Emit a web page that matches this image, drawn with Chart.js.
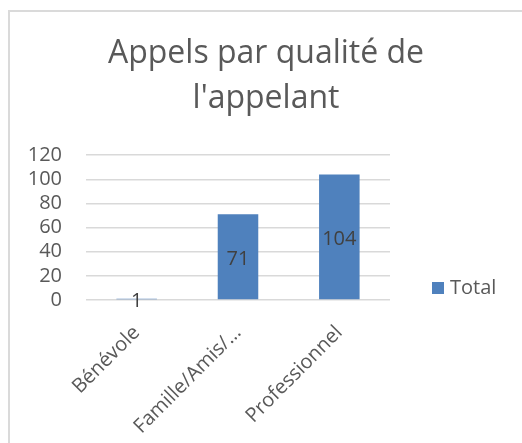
<!DOCTYPE html>
<html>
<head>
<meta charset="utf-8">
<script src="https://cdn.jsdelivr.net/npm/chart.js@4/dist/chart.umd.min.js"></script>
<style>
  html, body { margin: 0; padding: 0; background: #fff; }
  body { width: 522px; height: 443px; position: relative; overflow: hidden; }
  .frame { position: absolute; left: 8px; top: 10px; width: 600px; height: 600px; border: 2px solid #dadada; }
  #chart { position: absolute; left: 0; top: 0; }
</style>
</head>
<body>
<div class="frame"></div>
<canvas id="chart" width="522" height="443"></canvas>
<script>
// data
const categories = ["Bénévole", "Famille/Amis/…", "Professionnel"];
const totals = [1, 71, 104];
const yTicks = [0, 20, 40, 60, 80, 100, 120];
const seriesName = "Total";

const textColor = "#595959";
const barColor = "#4f81bd";
const fontFamily = "'Open Sans', sans-serif";

// value labels in the middle of each bar
const barLabels = {
  id: "barLabels",
  afterDatasetsDraw(chart) {
    const ctx = chart.ctx;
    const meta = chart.getDatasetMeta(0);
    ctx.save();
    ctx.font = "20px " + fontFamily;
    ctx.fillStyle = "#404040";
    ctx.textAlign = "center";
    ctx.textBaseline = "middle";
    meta.data.forEach((bar, i) => {
      const y = (bar.y + bar.base) / 2 + 2;
      ctx.fillText(String(chart.data.datasets[0].data[i]), bar.x, y);
    });
    ctx.restore();
  },
};

// legend drawn on the right of the plot
const sideLegend = {
  id: "sideLegend",
  afterDraw(chart) {
    const ctx = chart.ctx;
    const ds = chart.data.datasets[0];
    const x = chart.chartArea.right + 42;
    const y = chart.chartArea.bottom - 12;
    ctx.save();
    ctx.fillStyle = ds.backgroundColor;
    ctx.fillRect(x, y - 6, 12, 12);
    ctx.font = "20px " + fontFamily;
    ctx.fillStyle = textColor;
    ctx.textAlign = "left";
    ctx.textBaseline = "middle";
    ctx.fillText(ds.label, x + 18, y);
    ctx.restore();
  },
};

const ctx = document.getElementById("chart").getContext("2d");
new Chart(ctx, {
  type: "bar",
  data: {
    labels: categories,
    datasets: [
      {
        label: seriesName,
        data: totals,
        backgroundColor: barColor,
        borderWidth: 0,
        barPercentage: 0.4,
        categoryPercentage: 1,
      },
    ],
  },
  plugins: [barLabels, sideLegend],
  options: {
    responsive: false,
    animation: false,
    layout: {
      padding: { left: 10, right: 0, top: 0, bottom: 0 },
    },
    plugins: {
      legend: { display: false },
      tooltip: { enabled: false },
      title: {
        display: true,
        text: ["Appels par qualité de", "l'appelant"],
        color: textColor,
        font: { family: fontFamily, size: 32, weight: "normal", lineHeight: 1.41 },
        padding: { top: 31, bottom: 34 },
      },
    },
    scales: {
      x: {
        grid: { display: false },
        border: { display: false },
        ticks: {
          color: textColor,
          font: { family: fontFamily, size: 20 },
          maxRotation: 45,
          minRotation: 45,
          autoSkip: false,
          padding: 13,
        },
        afterFit(scale) {
          scale.height = 143;
        },
      },
      y: {
        min: 0,
        max: 120,
        afterBuildTicks(scale) {
          scale.ticks = yTicks.map((v) => ({ value: v }));
        },
        grid: { color: "#d9d9d9", lineWidth: 1.5, drawTicks: false },
        border: { display: false },
        ticks: {
          color: textColor,
          font: { family: fontFamily, size: 20 },
          padding: 24,
          autoSkip: false,
        },
        afterFit(scale) {
          scale.width = 76;
        },
      },
      legendSpace: {
        type: "linear",
        position: "right",
        display: true,
        grid: { display: false },
        border: { display: false },
        ticks: { display: false },
        afterFit(scale) {
          scale.width = 132;
        },
      },
    },
  },
});
</script>
</body>
</html>
